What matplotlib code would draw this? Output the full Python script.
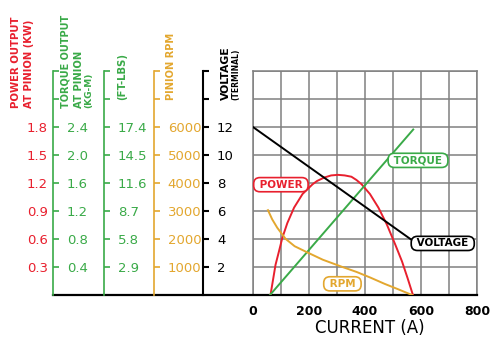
import matplotlib
matplotlib.use('Agg')
import matplotlib.pyplot as plt

# values
current_ticks = [0, 200, 400, 600, 800]
volt_ticks = [2, 4, 6, 8, 10, 12]
power_ticks = [0.3, 0.6, 0.9, 1.2, 1.5, 1.8]
kgm_ticks = [0.4, 0.8, 1.2, 1.6, 2.0, 2.4]
ftlb_ticks = [2.9, 5.8, 8.7, 11.6, 14.5, 17.4]
rpm_ticks = [1000, 2000, 3000, 4000, 5000, 6000]

power_labels = ['0.3', '0.6', '0.9', '1.2', '1.5', '1.8']
kgm_labels = ['0.4', '0.8', '1.2', '1.6', '2.0', '2.4']
ftlb_labels = ['2.9', '5.8', '8.7', '11.6', '14.5', '17.4']
rpm_labels = ['1000', '2000', '3000', '4000', '5000', '6000']
volt_labels = ['2', '4', '6', '8', '10', '12']

voltage_a = [0, 565]
voltage_v = [12.0, 3.95]

torque_a = [62, 572]
torque_kgm = [0.0, 2.36]

power_a = [64, 72, 82, 94, 106, 124, 148, 178, 214, 230, 256, 280, 304, 328,
           352, 370, 388, 418, 448, 478, 508, 532, 552, 571]
power_kw = [0.0, 0.144, 0.324, 0.465, 0.61, 0.77, 0.935, 1.08, 1.185, 1.22,
            1.257, 1.279, 1.285, 1.279, 1.265, 1.23, 1.185, 1.08, 0.935,
            0.755, 0.54, 0.36, 0.18, 0.0]

rpm_a = [55, 70, 88, 118, 150, 195, 250, 320, 370, 420, 470, 520, 568]
rpm_val = [3025, 2700, 2400, 2000, 1740, 1520, 1260, 1000, 825, 620, 400, 200, 0]

RED = '#e8202e'
GREEN = '#3aaa48'
ORANGE = '#e3a72f'
GRAY = '#808080'

fig = plt.figure(figsize=(5, 3.5), dpi=100)
ax = fig.add_axes([0.505, 0.157, 0.4496, 0.6414])

ax.set_xlim(0, 800)
ax.set_ylim(0, 16)
ax.set_xticks(current_ticks)
ax.set_xticks(range(0, 801, 100), minor=True)
ax.set_yticks(range(0, 17, 2))
ax.set_yticklabels([])
ax.grid(True, which='both', color=GRAY, lw=1.1)
ax.set_axisbelow(True)
ax.tick_params(axis='both', which='both', length=0)
ax.tick_params(axis='x', pad=7, labelsize=9)
for lab in ax.get_xticklabels():
    lab.set_fontweight('bold')
for s in ['left', 'top', 'right']:
    ax.spines[s].set_color(GRAY)
    ax.spines[s].set_linewidth(1.1)
ax.spines['bottom'].set_visible(False)
ax.plot([-0.886, 1.0], [0, 0], transform=ax.transAxes, color='black',
        lw=1.6, clip_on=False, zorder=5)


def side_axis(ymax, labels, color, pos, side='right', lw=1.2):
    tw = ax.twinx()
    tw.set_ylim(0, ymax)
    for s in tw.spines.values():
        s.set_visible(False)
    sp = tw.spines[side]
    sp.set_visible(True)
    sp.set_position(('axes', pos))
    sp.set_color(color)
    sp.set_linewidth(lw)
    tw.yaxis.set_ticks_position(side)
    # ticks every grid row, only the lower six are labelled
    step = ymax / 8
    tw.set_yticks([step * i for i in range(1, 9)])
    tw.set_yticklabels(labels + ['', ''])
    tw.tick_params(axis='y', direction='out', length=4.3, width=lw,
                   color=color, labelcolor=color, labelsize=9.5, pad=5.5)
    return tw


pw = side_axis(2.4, power_labels, RED, -0.886, side='left')
pw.spines['left'].set_visible(False)
pw.tick_params(axis='y', length=0, pad=4)
kg = side_axis(3.2, kgm_labels, GREEN, -0.886)
ft = side_axis(23.2, ftlb_labels, GREEN, -0.659)
rp = side_axis(8000, rpm_labels, ORANGE, -0.437)
vt = side_axis(16, volt_labels, 'black', -0.219, lw=1.5)

pw.plot(power_a, power_kw, color=RED, lw=1.4)
kg.plot(torque_a, torque_kgm, color=GREEN, lw=1.4)
rp.plot(rpm_a, rpm_val, color=ORANGE, lw=1.4)
vt.plot(voltage_a, voltage_v, color='black', lw=1.4)


def tag(axis, x, y, s, color):
    axis.text(x, y, ' ' + s + ' ', color=color, fontsize=7.5, fontweight='bold',
              ha='center', va='center', zorder=10,
              bbox=dict(boxstyle='round,pad=0.2,rounding_size=0.6',
                        fc='white', ec=color, lw=1.2))


tag(pw, 101, 1.18, 'POWER', RED)
tag(kg, 589, 1.92, 'TORQUE', GREEN)
tag(vt, 677, 3.68, 'VOLTAGE', 'black')
tag(rp, 320, 400, 'RPM', ORANGE)


def header(x, y, s, color, size):
    fig.text(x / 500, 1 - y / 350, s, color=color, fontsize=size,
             fontweight='bold', rotation=90, ha='center', va='bottom')


header(16, 108, 'POWER OUTPUT', RED, 7.3)
header(29, 108, 'AT PINION (KW)', RED, 7.2)
header(66, 108, 'TORQUE OUTPUT', GREEN, 7.0)
header(79, 108, 'AT PINION', GREEN, 7.2)
header(89, 108, '(KG-M)', GREEN, 6.5)
header(122.5, 100, '(FT-LBS)', GREEN, 7.3)
header(171.5, 100, 'PINION RPM', ORANGE, 7.1)
header(226, 100, 'VOLTAGE', 'black', 7.8)
header(236, 100, '(TERMINAL)', 'black', 5.5)

fig.text(370 / 500, 1 - 328 / 350, 'CURRENT (A)', fontsize=12,
         ha='center', va='center')

fig.savefig('out.png', dpi=100)
